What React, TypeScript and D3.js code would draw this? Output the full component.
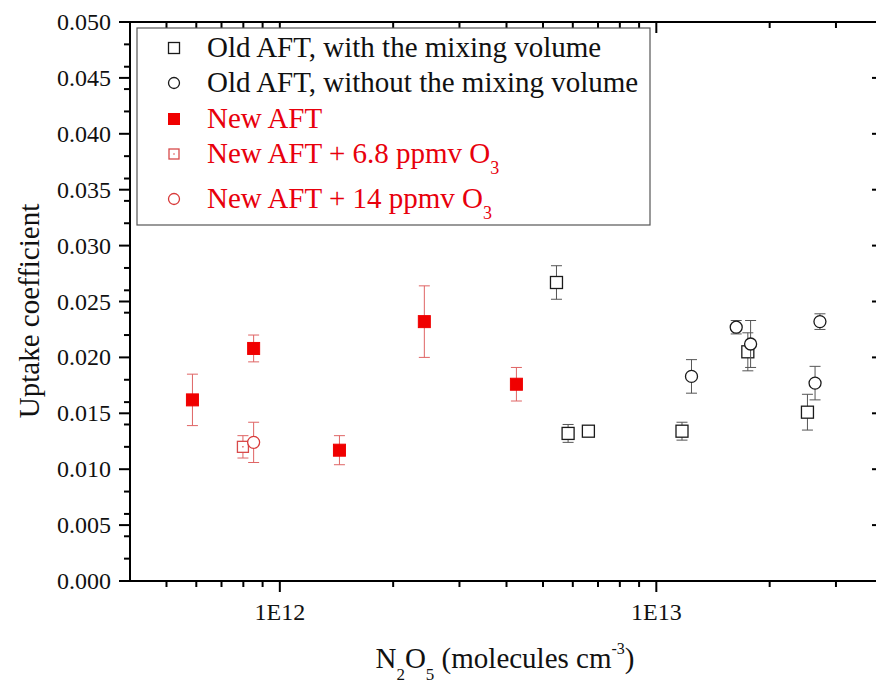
import * as d3 from "d3";

// N2O5 concentration (molecules cm-3), uptake coefficient and its error, per series
const oldWithX = [5.43e12, 5.83e12, 6.6e12, 1.17e13, 1.75e13, 2.52e13];
const oldWithY = [0.0267, 0.0132, 0.0134, 0.0134, 0.0205, 0.0151];
const oldWithErr = [0.0015, 0.0008, 0.0003, 0.0008, 0.0017, 0.0016];

const oldWithoutX = [1.24e13, 1.63e13, 1.78e13, 2.64e13, 2.72e13];
const oldWithoutY = [0.0183, 0.0227, 0.0212, 0.0177, 0.0232];
const oldWithoutErr = [0.0015, 0.0006, 0.0021, 0.0015, 0.0007];

const newX = [5.86e11, 8.52e11, 1.44e12, 2.42e12, 4.25e12];
const newY = [0.0162, 0.0208, 0.0117, 0.0232, 0.0176];
const newErr = [0.0023, 0.0012, 0.0013, 0.0032, 0.0015];

const o3LowX = [7.98e11];
const o3LowY = [0.012];
const o3LowErr = [0.001];

const o3HighX = [8.52e11];
const o3HighY = [0.0124];
const o3HighErr = [0.0018];

const xTickValues = [1e12, 1e13];
const xTickLabels = ["1E12", "1E13"];

type Shape = "square" | "circle" | "filled" | "dotSquare";

const RED = "#f00000";
const RED_ERR = "#df6464";
const BLACK = "#1a1a1a";
const BLACK_ERR = "#555";
const FONT = "Liberation Serif";

const series = [
  { xs: oldWithX, ys: oldWithY, errs: oldWithErr, shape: "square" as Shape, color: BLACK, errColor: BLACK_ERR, label: "Old AFT, with the mixing volume", sub: "" },
  { xs: newX, ys: newY, errs: newErr, shape: "filled" as Shape, color: RED, errColor: RED_ERR, label: "New AFT", sub: "" },
  { xs: o3LowX, ys: o3LowY, errs: o3LowErr, shape: "dotSquare" as Shape, color: "#d84a4a", errColor: RED_ERR, label: "New AFT + 6.8 ppmv O", sub: "3" },
  { xs: oldWithoutX, ys: oldWithoutY, errs: oldWithoutErr, shape: "circle" as Shape, color: BLACK, errColor: BLACK_ERR, label: "Old AFT, without the mixing volume", sub: "" },
  { xs: o3HighX, ys: o3HighY, errs: o3HighErr, shape: "circle" as Shape, color: "#d83a3a", errColor: RED_ERR, label: "New AFT + 14 ppmv O", sub: "3" },
];

// legend order differs from drawing order
const legendOrder = [0, 3, 1, 2, 4];
const legendRowY = [48, 83, 119, 154, 199];

const Marker = ({ cx, cy, shape, color, size = 12 }: { cx: number; cy: number; shape: Shape; color: string; size?: number }) => {
  const h = size / 2;
  if (shape === "circle") {
    return <circle cx={cx} cy={cy} r={h} fill="#fff" stroke={color} strokeWidth={1.3} />;
  }
  if (shape === "filled") {
    return <rect x={cx - h} y={cy - h} width={size} height={size} fill={color} stroke={color} strokeWidth={1} />;
  }
  return (
    <g>
      <rect x={cx - h} y={cy - h} width={size} height={size} fill="#fff" stroke={color} strokeWidth={1.3} />
      {shape === "dotSquare" && <circle cx={cx} cy={cy} r={0.8} fill={color} />}
    </g>
  );
};

export default function App() {
  const width = 876;
  const height = 684;
  const left = 130;
  const right = 883;
  const top = 22;
  const bottom = 581;

  const x = d3.scaleLog().domain([4e11, 4e13]).range([left, right]);
  const y = d3.scaleLinear().domain([0, 0.05]).range([bottom, top]);

  const decades = new Set(xTickValues);
  const xMinor = x.ticks().filter((v) => !decades.has(v) && v > 4e11 * 1.01 && v < 4e13 * 0.99);
  const yMajor = y.ticks(10);
  const yMinor = y.ticks(20).filter((v) => !yMajor.some((m) => Math.abs(m - v) < 1e-9));
  const fmt = d3.format(".3f");

  const capW = 11;

  return (
    <svg width={width} height={height} style={{ position: "absolute", left: 0, top: 0, background: "#fff", fontFamily: FONT }}>
      <rect width={width} height={height} fill="#fff" />

      {/* error bars and markers */}
      {series.map((s, si) => (
        <g key={si}>
          {s.xs.map((xv, i) => {
            const cx = x(xv);
            const yHi = y(s.ys[i] + s.errs[i]);
            const yLo = y(s.ys[i] - s.errs[i]);
            return (
              <g key={i} stroke={s.errColor} strokeWidth={1}>
                <line x1={cx} x2={cx} y1={yHi} y2={yLo} />
                <line x1={cx - capW / 2} x2={cx + capW / 2} y1={yHi} y2={yHi} />
                <line x1={cx - capW / 2} x2={cx + capW / 2} y1={yLo} y2={yLo} />
              </g>
            );
          })}
          {s.xs.map((xv, i) => (
            <Marker key={i} cx={x(xv)} cy={y(s.ys[i])} shape={s.shape} color={s.color} size={s.shape === "dotSquare" ? 11 : 12} />
          ))}
        </g>
      ))}

      {/* frame */}
      <g stroke="#000" strokeWidth={2} fill="none">
        <line x1={left} x2={right} y1={bottom} y2={bottom} />
        <line x1={left} x2={right} y1={top} y2={top} />
        <line x1={left} x2={left} y1={top} y2={bottom} />
        <line x1={right} x2={right} y1={top} y2={bottom} />
      </g>

      {/* ticks */}
      <g stroke="#000" strokeWidth={2}>
        {xTickValues.map((v) => (
          <g key={v}>
            <line x1={x(v)} x2={x(v)} y1={bottom} y2={bottom + 11} />
            <line x1={x(v)} x2={x(v)} y1={top} y2={top + 11} />
          </g>
        ))}
        {xMinor.map((v) => (
          <g key={v}>
            <line x1={x(v)} x2={x(v)} y1={bottom} y2={bottom + 6} />
            <line x1={x(v)} x2={x(v)} y1={top} y2={top + 6} />
          </g>
        ))}
        {yMajor.map((v) => (
          <g key={v}>
            <line x1={left - 11} x2={left} y1={y(v)} y2={y(v)} />
            <line x1={right - 11} x2={right} y1={y(v)} y2={y(v)} />
          </g>
        ))}
        {yMinor.map((v) => (
          <g key={v}>
            <line x1={left - 6} x2={left} y1={y(v)} y2={y(v)} />
            <line x1={right - 6} x2={right} y1={y(v)} y2={y(v)} />
          </g>
        ))}
      </g>

      {/* tick labels */}
      <g fontSize={24} fill="#111">
        {xTickValues.map((v, i) => (
          <text key={v} x={x(v)} y={620} textAnchor="middle">
            {xTickLabels[i]}
          </text>
        ))}
        {yMajor.map((v) => (
          <text key={v} x={111} y={y(v) + 8} textAnchor="end">
            {fmt(v)}
          </text>
        ))}
      </g>

      {/* axis titles */}
      <text x={505} y={668} textAnchor="middle" fontSize={29} fill="#111">
        N<tspan fontSize={17} dy={12}>2</tspan>
        <tspan dy={-12}>O</tspan>
        <tspan fontSize={17} dy={12}>5</tspan>
        <tspan dy={-12}> (molecules cm</tspan>
        <tspan fontSize={16} dy={-14}>-3</tspan>
        <tspan dy={14}>)</tspan>
      </text>
      <text transform="translate(39,311) rotate(-90)" textAnchor="middle" fontSize={29} fill="#111">
        Uptake coefficient
      </text>

      {/* legend */}
      <rect x={137} y={28} width={513} height={197} fill="#fff" stroke="#555" strokeWidth={1.2} />
      {legendOrder.map((si, row) => {
        const s = series[si];
        const ly = legendRowY[row];
        const textColor = s.color === BLACK ? "#111" : "#e8000c";
        return (
          <g key={si}>
            <Marker cx={174} cy={ly} shape={s.shape} color={s.color} size={s.shape === "dotSquare" ? 10 : 11} />
            <text x={207} y={ly + 9} fontSize={29} fill={textColor}>
              {s.label}
              {s.sub && (
                <tspan fontSize={18} dy={11}>
                  {s.sub}
                </tspan>
              )}
            </text>
          </g>
        );
      })}
    </svg>
  );
}
